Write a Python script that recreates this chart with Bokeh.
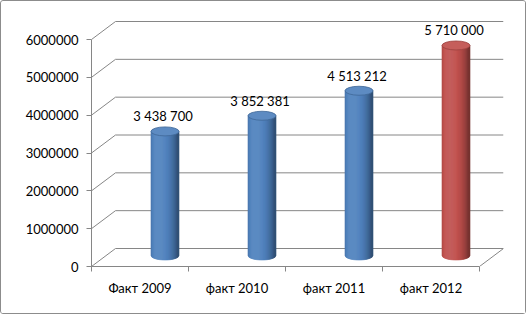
import math
from bokeh.plotting import figure
from bokeh.models import Range1d, FixedTicker, BasicTickFormatter
from bokeh.embed import file_html
from bokeh.resources import INLINE
from bokeh.core.properties import value

# ---- data ----
categories = ["Факт 2009", "факт 2010", "факт 2011", "факт 2012"]
values = [3438700, 3852381, 4513212, 5710000]
y_ticks = [0, 1000000, 2000000, 3000000, 4000000, 5000000, 6000000]
bar_colors = ["#4f81bd", "#4f81bd", "#4f81bd", "#c0504d"]

# ---- geometry / style (pixels) ----
W, H = 526, 314
FL, FB = 90, 265            # frame left / bottom (canvas px)
PX_X = 97.0                 # px per category
PX_V = (265 - 38) / 6e6     # px per value unit
DEPTH_X, DEPTH_Y = 24, 18   # back wall offset
CYL_DX = 25                 # cylinder x offset from category centre
CYL_R = 14                  # cylinder radius (px)
CYL_BASE = 11               # base ellipse centre above front floor (px)
CYL_TOP = 5                 # top ellipse offset above value (px)
ELL_H = 9                   # ellipse height (px)
LBL_OFF = 15
GRID = "#868686"
FONT = "Lato"

dxu = DEPTH_X / PX_X
dyv = DEPTH_Y / PX_V
x_start, x_end = -0.5, 3.5 + dxu
y_start, y_end = 0, (FB - 18) / PX_V
FR = FL + (x_end - x_start) * PX_X

p = figure(width=W, height=H, output_backend="svg", toolbar_location=None,
           x_range=Range1d(x_start, x_end), y_range=Range1d(y_start, y_end),
           min_border_left=FL, min_border_right=int(round(W - FR)),
           min_border_top=18, min_border_bottom=H - FB)
p.styles = {"border": "1px solid #8c8c8c", "border-radius": "3px"}
p.outline_line_color = None
p.background_fill_color = "white"
p.border_fill_color = "white"
p.xgrid.visible = False
p.ygrid.visible = False

# y axis
ya = p.yaxis[0]
ya.ticker = FixedTicker(ticks=y_ticks, minor_ticks=[])
ya.formatter = BasicTickFormatter(use_scientific=False)
ya.bounds = (y_ticks[0], y_ticks[-1])
ya.axis_line_color = GRID
ya.major_tick_line_color = GRID
ya.major_tick_out = 5
ya.major_tick_in = 0
ya.minor_tick_line_color = None
ya.major_label_text_font = FONT
ya.major_label_text_font_size = "13px"
ya.major_label_text_color = "black"
ya.major_label_standoff = 8

# x axis
xa = p.xaxis[0]
idx = list(range(len(categories)))
xa.ticker = FixedTicker(ticks=idx, minor_ticks=[i - 0.5 for i in range(len(categories) + 1)])
xa.major_label_overrides = {i: c for i, c in zip(idx, categories)}
xa.bounds = (-0.5, len(categories) - 0.5)
xa.axis_line_color = GRID
xa.major_tick_line_color = None
xa.major_tick_out = 0
xa.major_tick_in = 0
xa.minor_tick_line_color = GRID
xa.minor_tick_out = 5
xa.minor_tick_in = 0
xa.major_label_text_font = FONT
xa.major_label_text_font_size = "13px"
xa.major_label_text_color = "black"
xa.major_label_standoff = 8

# back wall grid lines and side diagonals
n = len(categories)
p.segment(x0=[-0.5 + dxu] * len(y_ticks), y0=[t + dyv for t in y_ticks],
          x1=[n - 0.5 + dxu] * len(y_ticks), y1=[t + dyv for t in y_ticks],
          line_color=GRID, line_width=1)
p.segment(x0=[-0.5] * len(y_ticks), y0=y_ticks,
          x1=[-0.5 + dxu] * len(y_ticks), y1=[t + dyv for t in y_ticks],
          line_color=GRID, line_width=1)
p.segment(x0=[n - 0.5], y0=[0], x1=[n - 0.5 + dxu], y1=[dyv],
          line_color=GRID, line_width=1)


def hex2rgb(h):
    h = h.lstrip("#")
    return tuple(int(h[i:i + 2], 16) for i in (0, 2, 4))


def shade(h, f):
    r, g, b = hex2rgb(h)
    if f <= 1:
        c = (r * f, g * f, b * f)
    else:
        k = min(f - 1, 1)
        c = (r + (255 - r) * k, g + (255 - g) * k, b + (255 - b) * k)
    return "#%02x%02x%02x" % tuple(max(0, min(255, int(round(v)))) for v in c)


# cylinders
NS = 28
ru = CYL_R / PX_X
eh = ELL_H / PX_V
base_v = CYL_BASE / PX_V
xs, ys, cols = [], [], []
tops_x, tops_y, top_cols, top_lines = [], [], [], []
for i, (v, col) in enumerate(zip(values, bar_colors)):
    cx = i + CYL_DX / PX_X
    top_v = v + CYL_TOP / PX_V
    for k in range(NS):
        ta = -1 + 2 * k / NS
        tb = -1 + 2 * (k + 1) / NS
        tm = (ta + tb) / 2
        th = math.asin(max(-1, min(1, tm)))
        f = 0.62 + 0.46 * max(0.0, math.cos(th + 0.45))
        xa_ = cx + ta * ru
        xb_ = cx + tb * ru
        ya_ = base_v - eh / 2 * math.sqrt(max(0, 1 - ta * ta))
        yb_ = base_v - eh / 2 * math.sqrt(max(0, 1 - tb * tb))
        xs.append([xa_, xb_, xb_, xa_])
        ys.append([ya_, yb_, top_v, top_v])
        cols.append(shade(col, f))
    tops_x.append(cx)
    tops_y.append(top_v)
    top_cols.append(shade(col, 1.08))
    top_lines.append(shade(col, 0.8))

p.patches(xs=xs, ys=ys, fill_color=cols, line_color=cols, line_width=0.6)
p.ellipse(x=tops_x, y=tops_y, width=2 * ru, height=eh,
          fill_color=top_cols, line_color=top_lines, line_width=0.8)

labels = [f"{v:,}".replace(",", " ") for v in values]
p.text(x=tops_x, y=[t + LBL_OFF / PX_V for t in tops_y], text=labels,
       text_font=value(FONT), text_font_size="13px", text_color="black",
       text_align="center", text_baseline="middle", x_offset=-2)

open("out.html", "w").write(file_html(p, INLINE))
